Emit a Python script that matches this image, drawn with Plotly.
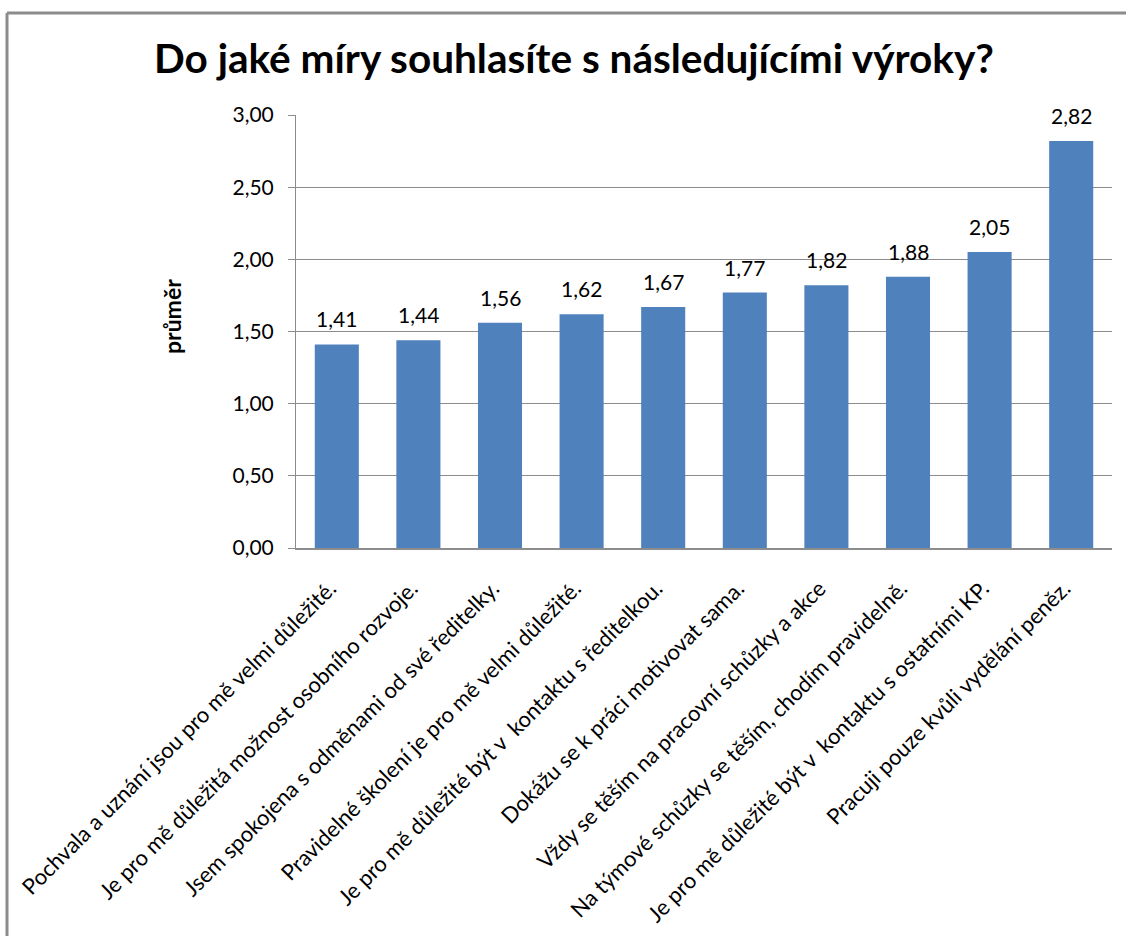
import plotly.graph_objects as go

categories = [
    "Pochvala a uznání jsou pro mě velmi důležité.",
    "Je pro mě důležitá možnost osobního rozvoje.",
    "Jsem spokojena s odměnami od své ředitelky.",
    "Pravidelné školení je pro mě velmi důležité.",
    "Je pro mě důležité být v  kontaktu s ředitelkou.",
    "Dokážu se k práci motivovat sama.",
    "Vždy se těším na pracovní schůzky a akce",
    "Na týmové schůzky se těším, chodím pravidelně.",
    "Je pro mě důležité být v  kontaktu s ostatními KP.",
    "Pracuji pouze kvůli vydělání peněz.",
]
values = [1.41, 1.44, 1.56, 1.62, 1.67, 1.77, 1.82, 1.88, 2.05, 2.82]
y_ticks = [0, 0.5, 1.0, 1.5, 2.0, 2.5, 3.0]

FONT = "Lato, 'Open Sans', 'DejaVu Sans', sans-serif"
W, H = 1126, 936
L, R, T, B = 296, 14, 115, 388
pw, ph = W - L - R, H - T - B

def px(x):
    return (x - L) / pw

def py(y):
    return (H - B - y) / ph

xcats = [c.replace("  ", "\u00a0 ") for c in categories]

fig = go.Figure(go.Bar(
    x=xcats,
    y=values,
    marker=dict(color="#4F81BD", line=dict(width=0)),
    hoverinfo="x+y",
))

label_ann = [
    dict(x=c, y=v, xref="x", yref="y", text=f"{v:.2f}".replace(".", ","),
         showarrow=False, yanchor="bottom", yshift=11,
         font=dict(family=FONT, size=21, color="#000000"))
    for c, v in zip(xcats, values)
]

fig.update_layout(
    width=W, height=H,
    margin=dict(l=L, r=R, t=T, b=B, autoexpand=False),
    paper_bgcolor="white", plot_bgcolor="white",
    separators=", ",
    bargap=0.46,
    showlegend=False,
    title=dict(
        text="<b>Do jaké míry souhlasíte s následujícími výroky?</b>",
        x=574 / W, xref="container", xanchor="center",
        y=1 - 59 / H, yref="container", yanchor="middle",
        font=dict(family=FONT, size=40.5, color="#000000"),
    ),
    yaxis=dict(
        range=[0, 3.0], tickvals=y_ticks, tickformat=".2f",
        showgrid=True, gridcolor="#8c8c8c", gridwidth=1,
        showline=True, linecolor="#8c8c8c", linewidth=1,
        ticks="outside", ticklen=7, tickcolor="#8c8c8c",
        tickfont=dict(family=FONT, size=21, color="#000000"),
        ticklabelstandoff=10,
        zeroline=False,
    ),
    xaxis=dict(
        tickangle=-45, showline=True, linecolor="#8c8c8c", linewidth=2,
        ticks="", tickfont=dict(family=FONT, size=22, color="#000000"),
        ticklabelstandoff=17, ticklabelshift=-7,
    ),
    annotations=label_ann + [dict(
        text="<b>průměr</b>", textangle=-90,
        x=px(156), y=py(317), xref="paper", yref="paper",
        showarrow=False, font=dict(family=FONT, size=23, color="#000000"),
    )],
    shapes=[
        dict(type="line", xref="paper", yref="paper",
             x0=px(7), x1=px(1130), y0=py(13), y1=py(13),
             line=dict(color="#8c8c8c", width=3)),
        dict(type="line", xref="paper", yref="paper",
             x0=px(7), x1=px(7), y0=py(13), y1=py(940),
             line=dict(color="#8c8c8c", width=3)),
    ],
)

fig.write_html("out.html", config={"displayModeBar": False},
               post_script="document.body.style.margin='0';")
